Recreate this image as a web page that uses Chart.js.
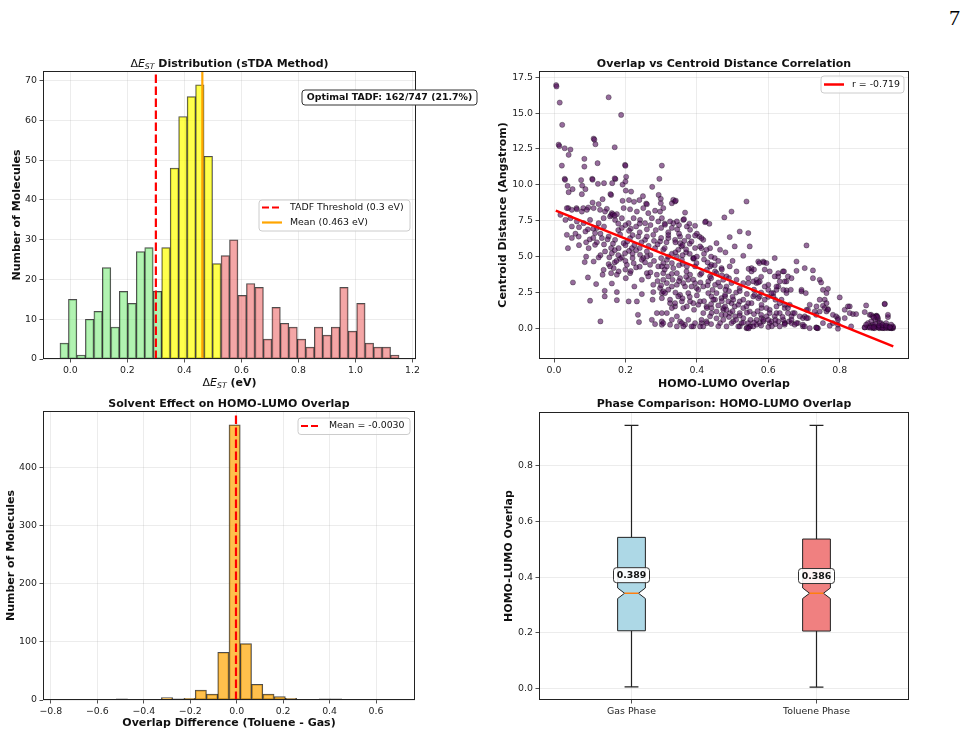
<!DOCTYPE html>
<html>
<head>
<meta charset="utf-8">
<script src="https://cdn.jsdelivr.net/npm/chart.js@4.4.1/dist/chart.umd.min.js"></script>
<style>
html, body { margin: 0; padding: 0; background: #fff; }
#page { position: relative; width: 972px; height: 736px; overflow: hidden; background: #fff; }
#page canvas { position: absolute; left: 0; top: 0; }
#pageno { position: absolute; left: 949px; top: 7px; font-family: 'Liberation Serif', 'DejaVu Serif', serif; font-size: 22px; line-height: 22px; color: #000; }
</style>
</head>
<body>
<div id="page">
  <div id="pageno">7</div>
  <canvas id="gapChart" width="972" height="736"></canvas>
  <canvas id="corrChart" width="972" height="736"></canvas>
  <canvas id="diffChart" width="972" height="736"></canvas>
  <canvas id="boxChart" width="972" height="736"></canvas>
</div>
<script>
// ---------- data ----------

// top left: singlet-triplet gap histogram (bin edges in eV, counts)
const gapEdges = [-0.0365, -0.0068, 0.0230, 0.0527, 0.0825, 0.1122, 0.1419, 0.1717, 0.2014, 0.2312,
  0.2609, 0.2906, 0.3204, 0.3501, 0.3799, 0.4096, 0.4393, 0.4691, 0.4988, 0.5286,
  0.5583, 0.5880, 0.6178, 0.6475, 0.6773, 0.7070, 0.7367, 0.7665, 0.7962, 0.8260,
  0.8557, 0.8854, 0.9152, 0.9449, 0.9747, 1.0044, 1.0341, 1.0639, 1.0936, 1.1234, 1.1531]
const gapCounts = [4, 15, 1, 10, 12, 23, 8, 17, 14, 27,
  28, 17, 28, 48, 61, 66, 69, 51, 24, 26,
  30, 16, 19, 18, 5, 13, 9, 8, 5, 3,
  8, 6, 8, 18, 7, 14, 4, 3, 3, 1]
const gapBands = [0.3, 0.5]
const tadfThreshold = 0.3
const gapMean = 0.463
const gapXTicks = [0, 0.2, 0.4, 0.6, 0.8, 1.0, 1.2]
const gapYTicks = [0, 10, 20, 30, 40, 50, 60, 70]

// top right: overlap vs centroid distance, [overlap, distance in Angstrom]
const overlapPts = [
  [0.006,16.95],[0.007,16.85],[0.016,15.73],[0.153,16.1],[0.188,14.87],[0.023,14.18],[0.111,13.22],[0.113,13.15],
  [0.116,12.83],[0.013,12.8],[0.015,12.7],[0.030,12.55],[0.046,12.46],[0.041,12.09],[0.170,12.62],[0.085,11.81],
  [0.085,11.27],[0.122,11.51],[0.022,11.34],[0.199,11.39],[0.200,11.33],[0.302,11.34],[0.030,10.42],[0.031,10.35],
  [0.038,9.93],[0.041,9.49],[0.052,9.70],[0.076,10.33],[0.079,9.95],[0.088,9.70],[0.078,9.35],[0.107,10.42],
  [0.108,10.36],[0.123,10.07],[0.140,10.12],[0.163,10.12],[0.172,10.40],[0.170,10.45],[0.192,10.02],[0.202,10.56],
  [0.200,10.23],[0.201,9.60],[0.216,9.53],[0.160,9.30],[0.158,9.36],[0.295,10.42],[0.275,9.86],[0.293,9.30],
  [0.249,9.21],[0.239,8.94],[0.224,8.82],[0.210,8.94],[0.192,8.89],[0.136,9.00],[0.108,8.77],[0.125,8.66],
  [0.148,8.33],[0.258,8.70],[0.260,8.65],[0.299,9.03],[0.299,8.72],[0.040,8.38],[0.063,8.38],[0.082,8.38],[0.096,8.42],
  [0.036,8.38],[0.050,8.26],[0.064,8.30],[0.078,8.14],[0.092,8.26],[0.111,8.38],[0.129,8.26],[0.143,8.14],
  [0.162,8.03],[0.176,7.96],[0.195,8.38],[0.213,8.30],[0.232,8.14],[0.250,8.38],[0.264,8.03],[0.283,8.20],
  [0.297,8.14],[0.306,8.38],
  [0.018,7.91],[0.032,7.56],[0.046,7.68],[0.064,7.45],[0.083,7.33],[0.101,7.56],[0.125,7.33],[0.139,7.68],
  [0.157,7.80],[0.171,7.56],[0.190,7.68],[0.209,7.33],[0.223,7.68],[0.241,7.56],[0.255,7.33],[0.274,7.68],
  [0.292,7.45],[0.160,7.90],[0.165,7.95],[0.170,7.85],[0.120,7.00],[0.095,6.90],[0.110,6.95],[0.200,7.20],
  [0.230,7.10],[0.270,7.20],[0.140,7.10],[0.070,7.05],[0.050,7.10],[0.260,6.90],[0.285,6.85],[0.180,6.85],
  [0.215,6.95],[0.240,7.30],[0.300,7.00],[0.310,7.30],
  [0.036,6.52],[0.069,6.40],[0.088,6.75],[0.115,6.64],[0.134,6.29],[0.153,6.40],[0.171,6.17],[0.195,5.94],
  [0.213,6.29],[0.236,6.40],[0.255,6.17],[0.278,6.52],[0.297,6.06],[0.050,6.30],[0.060,6.60],[0.100,6.20],
  [0.120,6.00],[0.185,6.55],[0.205,6.05],[0.225,5.80],[0.245,6.00],[0.265,5.75],[0.290,5.85],[0.165,5.90],[0.140,5.85],
  [0.039,5.59],[0.097,5.59],[0.115,5.82],[0.143,5.36],[0.162,5.24],[0.181,5.59],[0.199,5.24],[0.218,5.59],
  [0.241,5.13],[0.260,5.36],[0.283,5.59],[0.306,5.48],[0.090,5.00],[0.130,5.10],[0.170,5.45],[0.210,5.40],
  [0.230,5.45],[0.270,5.10],[0.155,4.95],[0.250,4.90],[0.190,4.95],
  [0.086,4.62],[0.111,4.66],[0.125,4.94],[0.153,4.48],[0.167,4.20],[0.181,3.97],[0.204,4.43],[0.223,4.55],
  [0.246,4.78],[0.269,4.43],[0.292,4.32],[0.306,4.55],[0.139,4.08],[0.157,4.32],[0.176,3.74],[0.213,3.85],
  [0.260,3.85],[0.264,3.62],[0.288,3.74],[0.306,3.39],[0.095,3.55],[0.136,3.74],[0.201,3.50],[0.246,3.39],
  [0.053,3.20],[0.118,3.09],[0.162,3.13],[0.225,2.92],[0.278,3.04],[0.297,2.81],[0.142,2.62],[0.176,2.53],
  [0.246,2.39],[0.278,2.53],[0.302,2.46],[0.101,1.93],[0.142,2.23],[0.176,1.97],[0.209,1.88],[0.232,1.88],
  [0.276,2.00],[0.302,2.11],[0.235,0.95],[0.288,1.07],[0.302,1.07],[0.238,0.44],[0.274,0.60],[0.283,0.30],
  [0.130,0.49],[0.302,0.26],[0.170,4.60],[0.175,4.70],[0.200,4.10],[0.215,4.00],[0.160,3.85],[0.185,4.85],
  [0.230,4.25],[0.255,4.60],
  [0.334,8.96],[0.330,8.72],[0.339,8.84],[0.341,8.90],[0.539,8.84],[0.497,8.14],[0.477,7.73],[0.425,7.45],
  [0.435,7.29],[0.367,8.07],[0.362,7.56],[0.344,7.45],[0.334,7.33],[0.325,7.45],[0.311,7.22],[0.302,7.68],
  [0.379,7.29],[0.395,7.15],[0.407,6.40],[0.418,6.17],[0.376,6.40],[0.353,6.40],[0.339,6.17],[0.320,6.29],
  [0.492,6.36],[0.520,6.75],[0.544,6.64],[0.506,5.71],[0.530,5.06],[0.548,5.71],[0.437,5.59],[0.455,5.94],
  [0.465,5.48],[0.413,5.59],[0.427,5.48],[0.390,4.90],[0.357,5.71],[0.348,5.48],[0.353,5.94],[0.469,4.20],
  [0.492,4.32],[0.511,3.97],[0.553,4.20],[0.572,4.66],[0.586,4.66],[0.618,4.90],[0.604,3.97],[0.628,3.62],
  [0.641,3.97],[0.655,3.62],[0.437,4.32],[0.441,4.43],[0.451,3.97],[0.409,3.74],[0.381,3.74],[0.395,4.32],
  [0.371,3.97],[0.334,4.20],[0.316,4.32],[0.302,4.32],[0.367,2.92],[0.344,3.04],[0.330,2.92],[0.316,3.16],
  [0.306,2.58],[0.353,2.34],[0.376,2.46],[0.399,2.81],[0.418,2.92],[0.432,3.27],[0.451,3.04],[0.483,2.92],
  [0.520,2.81],[0.544,3.16],[0.567,3.16],[0.600,3.04],[0.628,2.92],[0.651,3.27],[0.441,2.23],[0.451,2.00],
  [0.469,2.11],[0.479,2.23],[0.497,1.76],[0.520,1.88],[0.544,1.76],[0.558,2.23],[0.576,2.23],[0.590,2.00],
  [0.614,2.23],[0.632,1.76],[0.325,1.76],[0.339,1.53],[0.362,1.42],[0.390,1.76],[0.409,1.88],[0.427,1.53],
  [0.474,1.30],[0.506,1.53],[0.530,1.42],[0.548,1.18],[0.581,1.42],[0.604,1.30],[0.623,1.07],[0.646,1.42],
  [0.353,0.49],[0.367,0.26],[0.390,0.14],[0.413,0.37],[0.427,0.49],[0.441,1.07],[0.469,0.95],[0.502,0.49],
  [0.520,0.14],[0.548,0.14],[0.567,0.60],[0.586,0.49],[0.604,0.37],[0.628,0.49],[0.646,0.37],[0.658,0.49],
  [0.325,0.26],[0.302,0.49],
  [0.316,4.78],[0.330,4.55],[0.344,5.01],[0.358,4.78],[0.372,4.32],[0.390,4.85],[0.392,4.90],[0.399,4.55],
  [0.413,3.85],[0.428,4.08],[0.437,3.62],[0.306,3.85],[0.320,3.62],[0.332,3.39],[0.344,3.85],[0.353,3.50],
  [0.362,3.16],[0.376,3.39],[0.385,2.92],[0.395,3.16],[0.404,2.69],[0.432,2.46],[0.444,2.69],[0.311,2.46],
  [0.325,2.00],[0.339,1.76],[0.330,1.42],[0.348,2.23],[0.358,1.88],[0.372,1.53],[0.381,1.88],[0.392,1.30],
  [0.404,1.65],[0.418,1.07],[0.428,1.42],[0.316,1.07],[0.330,0.60],[0.344,0.84],[0.358,0.37],[0.362,0.14],
  [0.376,0.60],[0.385,0.14],[0.395,0.37],[0.409,0.14],[0.344,0.14],[0.306,0.37],
  [0.330,7.00],[0.345,6.90],[0.320,6.70],[0.350,6.60],[0.330,5.20],[0.340,5.30],[0.360,5.10],[0.370,5.30],
  [0.310,5.60],[0.320,5.00],[0.365,6.10],[0.380,5.90],[0.395,5.60],[0.400,6.60],[0.350,7.20],[0.315,6.00],
  [0.360,4.50],[0.350,4.40],
  [0.455,3.85],[0.474,3.39],[0.465,2.92],[0.483,3.62],[0.497,3.16],[0.511,3.39],[0.530,3.16],[0.544,3.50],
  [0.558,3.27],[0.567,3.39],[0.576,3.27],[0.572,3.20],[0.590,2.92],[0.600,2.69],[0.614,2.46],[0.623,2.69],
  [0.455,2.46],[0.479,2.34],[0.488,1.88],[0.502,2.00],[0.516,1.65],[0.530,2.00],[0.539,1.53],[0.553,1.76],
  [0.562,2.34],[0.572,2.11],[0.581,1.65],[0.595,1.42],[0.604,1.07],[0.618,0.84],[0.609,0.49],[0.446,2.00],
  [0.441,1.42],[0.455,1.18],[0.474,1.42],[0.479,1.53],[0.483,1.30],[0.493,1.07],[0.507,0.84],[0.520,1.07],
  [0.530,0.72],[0.544,0.37],[0.549,0.14],[0.539,0.02],[0.541,0.05],[0.545,0.00],[0.558,0.14],[0.567,0.26],
  [0.581,0.72],[0.586,0.60],[0.595,0.84],[0.576,0.37],[0.465,0.37],[0.474,0.60],[0.483,0.14],[0.497,0.37],
  [0.516,0.14],[0.525,0.37],[0.437,0.84],[0.428,0.37],[0.418,0.14],[0.413,0.60],
  [0.423,7.40],[0.409,5.71],[0.395,6.47],[0.385,6.06],[0.413,6.29],[0.372,7.10],[0.381,6.87],[0.364,7.61],
  [0.588,4.59],[0.575,4.55],[0.553,3.97],[0.595,4.55],[0.618,3.62],[0.644,3.97],[0.628,3.85],[0.665,3.50],
  [0.679,4.66],[0.702,4.20],[0.725,4.04],[0.707,5.78],
  [0.450,4.90],[0.460,4.70],[0.440,5.00],[0.500,4.70],[0.480,5.30],[0.420,4.80],[0.470,3.70],[0.490,3.50],
  [0.560,4.10],[0.545,4.15],[0.580,3.60],[0.590,4.10],[0.490,2.60],[0.500,2.20],[0.510,2.50],[0.470,1.90],
  [0.460,1.60],[0.560,1.00],[0.570,1.20],[0.580,0.95],[0.600,0.60],[0.620,0.30],[0.610,0.15],[0.550,0.60],
  [0.530,0.40],[0.510,0.60],[0.490,0.80],[0.480,0.95],[0.455,0.70],[0.460,0.15],[0.440,0.30],
  [0.679,4.01],[0.725,3.50],[0.744,3.39],[0.748,3.20],[0.767,2.76],[0.646,3.27],[0.651,2.65],[0.663,2.69],
  [0.693,2.58],[0.705,2.46],[0.800,2.16],
  [0.758,2.00],[0.763,1.76],[0.753,1.58],[0.767,1.35],[0.744,1.18],[0.734,0.95],[0.781,0.95],[0.790,0.84],
  [0.795,0.72],[0.814,1.30],[0.828,1.53],[0.814,0.72],[0.837,1.00],[0.846,1.00],[0.874,1.60],[0.926,1.72],
  [0.884,0.95],[0.902,0.88],[0.935,0.79],[0.907,0.60],[0.916,0.37],[0.930,0.14],[0.897,0.14],[0.879,0.07],
  [0.870,0.07],[0.912,0.02],[0.935,0.07],[0.944,0.02],[0.949,0.02],[0.921,0.02],[0.893,0.02],
  [0.646,1.65],[0.655,1.42],[0.669,1.07],[0.665,0.84],[0.707,1.30],[0.702,0.84],[0.711,0.72],[0.697,0.72],
  [0.683,0.37],[0.665,0.37],[0.674,0.26],[0.646,0.37],[0.697,0.14],[0.716,0.02],[0.737,0.02],[0.734,0.07],
  [0.772,0.19],[0.795,-0.02],[0.832,0.14],
  [0.888,0.95],[0.893,0.84],[0.902,0.84],[0.907,0.72],[0.904,0.88],[0.900,0.60],[0.888,0.49],[0.879,0.37],
  [0.893,0.26],[0.902,0.14],[0.912,0.14],[0.921,0.14],[0.930,0.14],[0.935,0.02],[0.944,0.02],[0.949,0.07],
  [0.939,0.09],[0.926,0.02],[0.916,0.07],[0.907,0.07],[0.898,0.02],[0.884,0.14],[0.870,0.07],[0.874,0.26],
  [0.926,1.69],[0.935,0.95],[0.912,0.37],[0.930,0.37],[0.949,0.14],[0.944,0.26],[0.905,0.80],[0.895,0.75],
  [0.910,0.05],[0.920,0.04],[0.940,0.05],[0.930,0.06],
  [0.870,1.14],[0.823,1.53],[0.828,1.07],[0.795,0.26],
  [0.693,2.69],[0.753,2.69],[0.763,2.46],[0.744,2.00],[0.735,1.53],[0.758,1.42],[0.763,1.18],[0.767,1.30],
  [0.795,0.60],[0.781,0.37],[0.753,0.37],[0.739,0.02],[0.735,0.05],[0.697,0.26],[0.702,0.14],[0.679,0.37],
  [0.665,0.60],[0.674,1.07],[0.688,0.84],[0.707,0.72],[0.711,1.30],[0.716,1.65],[0.730,1.18],[0.660,1.65],
  [0.655,1.07],[0.646,0.26],[0.632,0.14],[0.642,0.60],[0.632,1.07],[0.623,1.53],[0.637,2.00],[0.651,2.46],
  [0.642,2.69],[0.623,2.92],[0.632,3.27],[0.609,2.46],
  [0.180,7.30],[0.190,7.00],[0.210,6.80],[0.220,6.50],[0.240,6.70],[0.260,6.40],[0.280,6.10],[0.300,6.30],
  [0.320,6.50],[0.340,6.00],[0.360,5.80],[0.370,5.50],[0.380,5.20],[0.400,5.00],[0.420,5.20],[0.430,4.60],
  [0.450,4.40],[0.470,4.10],[0.200,5.80],[0.220,5.20],[0.240,5.60],[0.260,5.00],[0.280,4.70],[0.300,4.90],
  [0.310,4.10],[0.330,3.80],[0.350,3.30],[0.370,3.60],[0.390,3.40],[0.410,3.20],[0.430,3.00],[0.440,3.50],
  [0.460,3.20],[0.480,2.70],[0.520,2.60],[0.540,2.40],[0.560,2.70],[0.580,2.50],[0.600,2.20],[0.620,2.00],
  [0.500,1.20],[0.520,0.90],[0.540,1.10],[0.560,0.40],[0.580,0.20],[0.600,0.10],[0.620,0.60],[0.640,0.80],
  [0.150,6.20],[0.130,6.60],[0.110,6.30],[0.090,6.00],[0.070,5.80],[0.160,5.60],[0.180,5.10],[0.200,4.70],
  [0.220,4.90],[0.240,4.30],[0.270,3.90],[0.290,3.30],[0.300,3.00],[0.320,2.70],[0.340,2.50],[0.360,2.10],
  [0.380,2.20],[0.400,2.30],[0.420,1.90],[0.440,1.70],[0.890,0.10],[0.900,0.30],[0.910,0.20],[0.920,0.25],
  [0.930,0.20],[0.940,0.10],[0.885,0.05],[0.895,0.08]
]
const fitX = [0.005, 0.950]
const fitY = [8.20, -1.25]
const fitR = -0.719
const corrXTicks = [0, 0.2, 0.4, 0.6, 0.8]
const corrYTicks = [0, 2.5, 5, 7.5, 10, 12.5, 15, 17.5]

// bottom left: toluene minus gas overlap histogram
const diffEdges = [-0.7610, -0.7125, -0.6639, -0.6154, -0.5669, -0.5184, -0.4698, -0.4213, -0.3728, -0.3242,
  -0.2757, -0.2272, -0.1786, -0.1301, -0.0816, -0.0331, 0.0155, 0.0640, 0.1125, 0.1611,
  0.2096, 0.2581, 0.3067, 0.3552, 0.4037, 0.4523, 0.5008, 0.5493, 0.5979, 0.6464, 0.6949]
const diffCounts = [1, 0, 0, 0, 0, 2, 1, 0, 1, 4,
  2, 3, 17, 10, 82, 473, 97, 27, 10, 6,
  3, 1, 1, 2, 2, 0, 1, 0, 0, 1]
const diffMean = -0.0030
const diffXTicks = [-0.8, -0.6, -0.4, -0.2, 0, 0.2, 0.4, 0.6]
const diffYTicks = [0, 100, 200, 300, 400]

// bottom right: box plot statistics per phase
const phaseNames = ['Gas Phase', 'Toluene Phase']
const boxLow = [0.005, 0.004]
const boxQ1 = [0.207, 0.206]
const boxMedian = [0.342, 0.342]
const boxQ3 = [0.543, 0.537]
const boxHigh = [0.946, 0.946]
const notchLow = [0.323, 0.323]
const notchHigh = [0.361, 0.361]
const phaseMeans = [0.389, 0.386]
const phaseYTicks = [0, 0.2, 0.4, 0.6, 0.8]
const optimalCount = 162
const totalCount = 747

// ---------- shared styling ----------
const W = 972, H = 736
const FAM = "'DejaVu Sans'"
const TICK = 9.4
const gridCol = 'rgba(176,176,176,0.3)'
const titleFont = `bold 11px ${FAM}`
const smallFont = `${TICK}px ${FAM}`

Chart.defaults.font.family = FAM
Chart.defaults.color = '#222'
Chart.defaults.plugins.legend.display = false
Chart.defaults.plugins.tooltip.enabled = false

function num(v, d) {
    const s = (Math.abs(v) < 1e-9 ? 0 : v).toFixed(d)
    return s.replace('-', '\u2212')
}

function layoutFor(area) {
    return { padding: { left: 0, top: area.top, right: W - area.right, bottom: 0 } }
}

function axisX(area, lo, hi, ticks, dec) {
    return {
        type: 'linear', min: lo, max: hi, offset: false,
        afterFit: s => { s.height = H - area.bottom },
        afterBuildTicks: s => { s.ticks = ticks.map(v => ({ value: v })) },
        ticks: { autoSkip: false, maxRotation: 0, padding: 2,
                 font: { size: TICK }, color: '#222', callback: v => num(v, dec) },
        grid: { color: gridCol, lineWidth: 0.8, offset: false, tickColor: '#222', tickLength: 3.5, tickWidth: 0.8 },
        border: { display: false },
    }
}

function axisY(area, lo, hi, ticks, dec) {
    return {
        type: 'linear', min: lo, max: hi,
        afterFit: s => { s.width = area.left },
        afterBuildTicks: s => { s.ticks = ticks.map(v => ({ value: v })) },
        ticks: { autoSkip: false, padding: 2.5,
                 font: { size: TICK }, color: '#222', callback: v => num(v, dec) },
        grid: { color: gridCol, lineWidth: 0.8, tickColor: '#222', tickLength: 3.5, tickWidth: 0.8 },
        border: { display: false },
    }
}

function frame(chart) {
    const a = chart.chartArea, c = chart.ctx
    c.save()
    c.strokeStyle = '#222'
    c.lineWidth = 1
    c.strokeRect(a.left + 0.5, a.top + 0.5, a.right - a.left - 1, a.bottom - a.top - 1)
    c.restore()
}

function txt(c, s, x, y, font, align, base) {
    c.save()
    c.font = font
    c.fillStyle = '#111'
    c.textAlign = align || 'center'
    c.textBaseline = base || 'alphabetic'
    c.fillText(s, x, y)
    c.restore()
}

function rotTxt(c, s, x, y, font) {
    c.save()
    c.translate(x, y)
    c.rotate(-Math.PI / 2)
    c.font = font
    c.fillStyle = '#111'
    c.textAlign = 'center'
    c.textBaseline = 'middle'
    c.fillText(s, 0, 0)
    c.restore()
}

// text made of runs with different fonts (mathtext look-alike)
function richTxt(c, parts, cx, base) {
    c.save()
    let total = 0
    parts.forEach(p => { c.font = p.font; p.w = c.measureText(p.t).width; total += p.w })
    let x = cx - total / 2
    c.fillStyle = '#111'
    c.textAlign = 'left'
    c.textBaseline = 'alphabetic'
    parts.forEach(p => { c.font = p.font; c.fillText(p.t, x, base + (p.dy || 0)); x += p.w })
    c.restore()
}

function roundBox(c, x, y, w, h, r, fill, stroke) {
    c.save()
    c.beginPath()
    c.moveTo(x + r, y)
    c.arcTo(x + w, y, x + w, y + h, r)
    c.arcTo(x + w, y + h, x, y + h, r)
    c.arcTo(x, y + h, x, y, r)
    c.arcTo(x, y, x + w, y, r)
    c.closePath()
    c.fillStyle = fill
    c.fill()
    c.strokeStyle = stroke
    c.lineWidth = 1
    c.stroke()
    c.restore()
}

function legend(c, box, items) {
    roundBox(c, box.x, box.y, box.w, box.h, 3, 'rgba(255,255,255,0.8)', '#cccccc')
    items.forEach(it => {
        c.save()
        c.strokeStyle = it.color
        c.lineWidth = it.width
        c.setLineDash(it.dash || [])
        c.beginPath()
        c.moveTo(box.x + 3, it.y)
        c.lineTo(box.x + 23, it.y)
        c.stroke()
        c.restore()
        txt(c, it.label, box.x + 31, it.y, smallFont, 'left', 'middle')
    })
}

function vline(chart, value, color, width, dash) {
    const c = chart.ctx, a = chart.chartArea
    const px = chart.scales.x.getPixelForValue(value)
    c.save()
    c.beginPath()
    c.rect(a.left, a.top, a.right - a.left, a.bottom - a.top)
    c.clip()
    c.strokeStyle = color
    c.lineWidth = width
    c.setLineDash(dash)
    c.beginPath()
    c.moveTo(px, a.bottom)
    c.lineTo(px, a.top)
    c.stroke()
    c.restore()
}

function binBars(edges, counts) {
    return counts.map((n, i) => ({ x: (edges[i] + edges[i + 1]) / 2, y: n }))
}

function padRange(lo, hi) {
    const m = (hi - lo) * 0.05
    return [lo - m, hi + m]
}

// ---------- top left: gap histogram ----------
const areaTL = { left: 43, right: 416, top: 71, bottom: 359 }
const gapRange = padRange(gapEdges[0], gapEdges[gapEdges.length - 1])
const gapColors = gapCounts.map((n, i) =>
    gapEdges[i] < gapBands[0] ? 'rgba(144,238,144,0.7)' :
    gapEdges[i] < gapBands[1] ? 'rgba(255,255,0,0.7)' : 'rgba(240,128,128,0.7)')

new Chart(document.getElementById('gapChart'), {
    type: 'bar',
    data: {
        datasets: [{
            data: binBars(gapEdges, gapCounts),
            backgroundColor: gapColors,
            borderColor: 'rgba(0,0,0,0.7)',
            borderWidth: 1,
            borderSkipped: false,
            barPercentage: 1,
            categoryPercentage: 1,
        }],
    },
    options: {
        responsive: false, animation: false, devicePixelRatio: 1,
        layout: layoutFor(areaTL),
        scales: {
            x: axisX(areaTL, gapRange[0], gapRange[1], gapXTicks, 1),
            y: axisY(areaTL, 0, Math.max(...gapCounts) * 1.05, gapYTicks, 0),
        },
    },
    plugins: [{
        id: 'gapDecor',
        afterDatasetsDraw(chart) {
            vline(chart, tadfThreshold, '#ff0000', 2.2, [8.5, 3.5])
            vline(chart, gapMean, '#ffa500', 2.2, [])
        },
        afterDraw(chart) {
            const c = chart.ctx, a = chart.chartArea
            const cx = (a.left + a.right) / 2
            frame(chart)
            richTxt(c, [
                { t: '\u0394', font: `11px ${FAM}` },
                { t: 'E', font: `italic 11px ${FAM}` },
                { t: 'ST', font: `italic 7.7px ${FAM}`, dy: 2 },
                { t: ' Distribution (sTDA Method)', font: titleFont },
            ], cx, 66.5)
            richTxt(c, [
                { t: '\u0394', font: `11px ${FAM}` },
                { t: 'E', font: `italic 11px ${FAM}` },
                { t: 'ST', font: `italic 7.7px ${FAM}`, dy: 2 },
                { t: ' (eV)', font: titleFont },
            ], cx, 386)
            rotTxt(c, 'Number of Molecules', 17.5, (a.top + a.bottom) / 2, titleFont)
            legend(c, { x: 259, y: 200, w: 151, h: 31 }, [
                { label: `TADF Threshold (${tadfThreshold} eV)`, color: '#ff0000', width: 2.2, dash: [7, 3], y: 207.5 },
                { label: `Mean (${gapMean.toFixed(3)} eV)`, color: '#ffa500', width: 2.2, y: 222.5 },
            ])
            const pct = (optimalCount / totalCount * 100).toFixed(1)
            roundBox(c, 302, 90, 175, 15, 3, '#ffffff', '#333333')
            txt(c, `Optimal TADF: ${optimalCount}/${totalCount} (${pct}%)`, 389.5, 97.8, `bold ${TICK}px ${FAM}`, 'center', 'middle')
        },
    }],
})

// ---------- top right: overlap vs centroid distance ----------
const areaTR = { left: 539, right: 909, top: 71, bottom: 359 }

new Chart(document.getElementById('corrChart'), {
    type: 'scatter',
    data: {
        datasets: [
            {
                type: 'line',
                data: fitX.map((x, i) => ({ x, y: fitY[i] })),
                borderColor: '#ff0000',
                borderWidth: 2.5,
                pointRadius: 0,
                fill: false,
                order: 0,
            },
            {
                data: overlapPts.map(p => ({ x: p[0], y: p[1] })),
                backgroundColor: 'rgba(80,10,90,0.6)',
                borderColor: 'rgba(0,0,0,0.6)',
                borderWidth: 0.5,
                pointRadius: 2.6,
                order: 1,
            },
        ],
    },
    options: {
        responsive: false, animation: false, devicePixelRatio: 1,
        layout: layoutFor(areaTR),
        scales: {
            x: axisX(areaTR, -0.042, 0.994, corrXTicks, 1),
            y: axisY(areaTR, -2.13, 17.93, corrYTicks, 1),
        },
    },
    plugins: [{
        id: 'corrDecor',
        afterDraw(chart) {
            const c = chart.ctx, a = chart.chartArea
            const cx = (a.left + a.right) / 2
            frame(chart)
            txt(c, 'Overlap vs Centroid Distance Correlation', cx, 66.5, titleFont)
            txt(c, 'HOMO-LUMO Overlap', cx, 387, titleFont)
            rotTxt(c, 'Centroid Distance (Angstrom)', 503, (a.top + a.bottom) / 2, titleFont)
            legend(c, { x: 821, y: 76, w: 83, h: 17 }, [
                { label: `r = ${fitR.toFixed(3)}`, color: '#ff0000', width: 2.5, y: 84.5 },
            ])
        },
    }],
})

// ---------- bottom left: solvent effect histogram ----------
const areaBL = { left: 43, right: 415, top: 411, bottom: 700 }
const diffRange = padRange(diffEdges[0], diffEdges[diffEdges.length - 1])

new Chart(document.getElementById('diffChart'), {
    type: 'bar',
    data: {
        datasets: [{
            data: binBars(diffEdges, diffCounts),
            backgroundColor: 'rgba(255,165,0,0.7)',
            borderColor: 'rgba(0,0,0,0.7)',
            borderWidth: 1,
            borderSkipped: false,
            barPercentage: 1,
            categoryPercentage: 1,
        }],
    },
    options: {
        responsive: false, animation: false, devicePixelRatio: 1,
        layout: layoutFor(areaBL),
        scales: {
            x: axisX(areaBL, diffRange[0], diffRange[1], diffXTicks, 1),
            y: axisY(areaBL, 0, Math.max(...diffCounts) * 1.05, diffYTicks, 0),
        },
    },
    plugins: [{
        id: 'diffDecor',
        afterDatasetsDraw(chart) {
            vline(chart, diffMean, '#ff0000', 2.2, [8.5, 3.5])
        },
        afterDraw(chart) {
            const c = chart.ctx, a = chart.chartArea
            const cx = (a.left + a.right) / 2
            frame(chart)
            txt(c, 'Solvent Effect on HOMO-LUMO Overlap', cx, 406.5, titleFont)
            txt(c, 'Overlap Difference (Toluene - Gas)', cx, 726, titleFont)
            rotTxt(c, 'Number of Molecules', 11, (a.top + a.bottom) / 2, titleFont)
            legend(c, { x: 298, y: 418, w: 112, h: 16.5 }, [
                { label: `Mean = ${diffMean.toFixed(4)}`, color: '#ff0000', width: 2.2, dash: [7, 3], y: 426 },
            ])
        },
    }],
})

// ---------- bottom right: notched box plots ----------
const areaBR = { left: 539, right: 909, top: 412, bottom: 700 }
const boxFills = ['#add8e6', '#f08080']

const catAxis = axisX(areaBR, undefined, undefined, [], 0)
catAxis.type = 'category'
catAxis.offset = true
delete catAxis.min
delete catAxis.max
delete catAxis.afterBuildTicks
catAxis.ticks = { autoSkip: false, maxRotation: 0, padding: 2, font: { size: TICK }, color: '#222' }

new Chart(document.getElementById('boxChart'), {
    type: 'line',
    data: {
        labels: phaseNames,
        datasets: [{ data: phaseMeans, showLine: false, pointRadius: 0 }],
    },
    options: {
        responsive: false, animation: false, devicePixelRatio: 1,
        layout: layoutFor(areaBR),
        scales: {
            x: catAxis,
            y: axisY(areaBR, -0.042, 0.994, phaseYTicks, 1),
        },
    },
    plugins: [{
        id: 'boxDecor',
        afterDatasetsDraw(chart) {
            const c = chart.ctx
            const xs = chart.scales.x, ys = chart.scales.y
            const unit = xs.getPixelForValue(1) - xs.getPixelForValue(0)
            const hw = 0.075 * unit
            phaseNames.forEach((name, i) => {
                const cx = xs.getPixelForValue(i)
                const y = v => ys.getPixelForValue(v)
                c.save()
                c.strokeStyle = '#222'
                c.lineWidth = 1.2
                // whiskers and caps
                c.beginPath()
                c.moveTo(cx, y(boxQ1[i])); c.lineTo(cx, y(boxLow[i]))
                c.moveTo(cx, y(boxQ3[i])); c.lineTo(cx, y(boxHigh[i]))
                c.moveTo(cx - hw / 2, y(boxLow[i])); c.lineTo(cx + hw / 2, y(boxLow[i]))
                c.moveTo(cx - hw / 2, y(boxHigh[i])); c.lineTo(cx + hw / 2, y(boxHigh[i]))
                c.stroke()
                // notched box
                c.beginPath()
                c.moveTo(cx - hw, y(boxQ1[i]))
                c.lineTo(cx - hw, y(notchLow[i]))
                c.lineTo(cx - hw / 2, y(boxMedian[i]))
                c.lineTo(cx - hw, y(notchHigh[i]))
                c.lineTo(cx - hw, y(boxQ3[i]))
                c.lineTo(cx + hw, y(boxQ3[i]))
                c.lineTo(cx + hw, y(notchHigh[i]))
                c.lineTo(cx + hw / 2, y(boxMedian[i]))
                c.lineTo(cx + hw, y(notchLow[i]))
                c.lineTo(cx + hw, y(boxQ1[i]))
                c.closePath()
                c.fillStyle = boxFills[i]
                c.fill()
                c.lineWidth = 1
                c.stroke()
                // median
                c.strokeStyle = '#ff7f0e'
                c.lineWidth = 1.5
                c.beginPath()
                c.moveTo(cx - hw / 2, y(boxMedian[i]))
                c.lineTo(cx + hw / 2, y(boxMedian[i]))
                c.stroke()
                c.restore()
                // mean label
                const ly = y(phaseMeans[i]) - 5
                roundBox(c, cx - 18, ly - 7.5, 36, 15, 3, 'rgba(255,255,255,0.9)', '#333333')
                txt(c, phaseMeans[i].toFixed(3), cx, ly + 0.5, `bold ${TICK}px ${FAM}`, 'center', 'middle')
            })
        },
        afterDraw(chart) {
            const c = chart.ctx, a = chart.chartArea
            frame(chart)
            txt(c, 'Phase Comparison: HOMO-LUMO Overlap', (a.left + a.right) / 2, 407, titleFont)
            rotTxt(c, 'HOMO-LUMO Overlap', 509.5, (a.top + a.bottom) / 2, titleFont)
        },
    }],
})
</script>
</body>
</html>
